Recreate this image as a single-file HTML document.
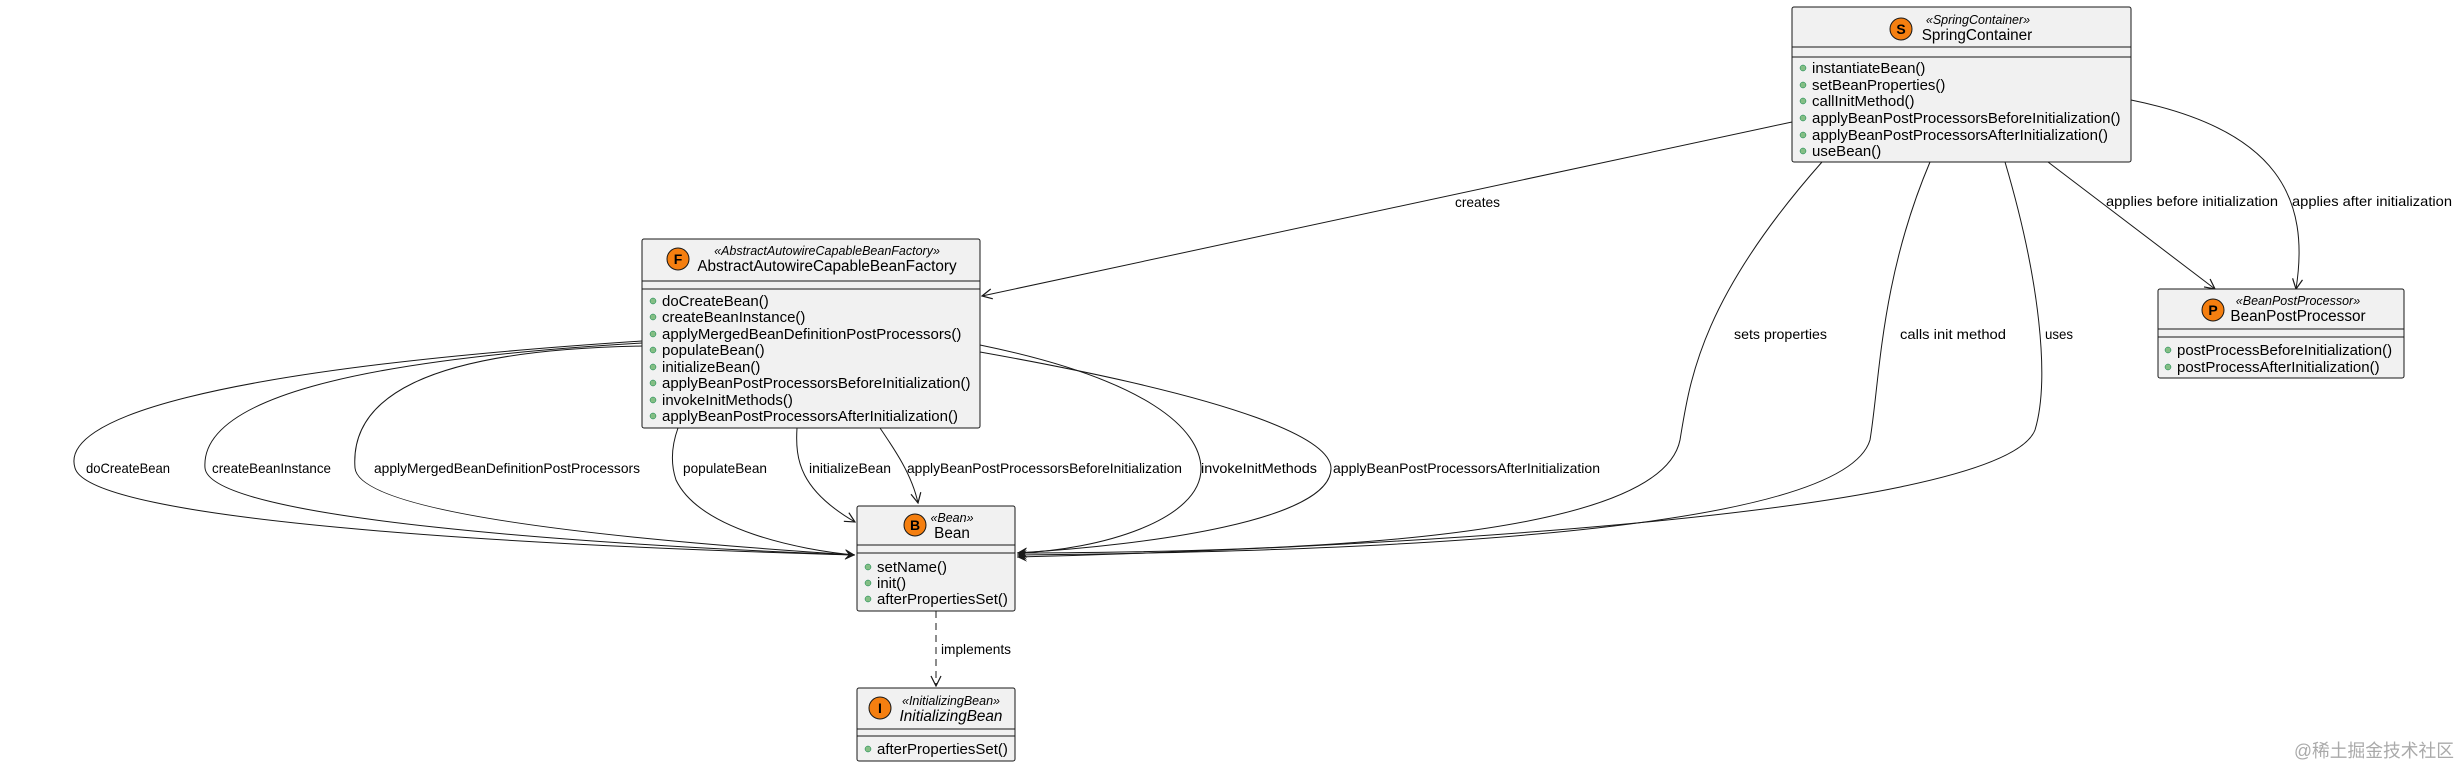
<!DOCTYPE html>
<html><head><meta charset="utf-8"><style>
html,body{margin:0;padding:0;background:#fff;}
svg{display:block;}
text{font-family:"Liberation Sans","Noto Sans CJK SC",sans-serif;fill:#000;}
.m{font-size:15px;}
.l{font-size:14px;}
.st{font-size:12.5px;font-style:italic;}
.nm{font-size:15.3px;}
.box{fill:#f1f1f1;stroke:#181818;stroke-width:1;}
.sep{stroke:#181818;stroke-width:1;}
.e{fill:none;stroke:#181818;stroke-width:1;}
.dot{fill:#84be84;stroke:#038048;stroke-width:0.5;}
.ic{fill:#f57f10;stroke:#181818;stroke-width:1;}
.it{font-size:14px;font-weight:bold;text-anchor:middle;}
</style></head><body>
<svg width="2460" height="767" viewBox="0 0 2460 767" xmlns="http://www.w3.org/2000/svg">
<defs>
<marker id="a" viewBox="0 0 12 12" refX="11" refY="6" markerWidth="12" markerHeight="12" markerUnits="userSpaceOnUse" orient="auto">
<path d="M1,1 L11,6 L1,11 L5,6 Z" fill="#181818"/>
</marker>
<marker id="v" viewBox="0 0 12 12" refX="11" refY="6" markerWidth="12" markerHeight="12" markerUnits="userSpaceOnUse" orient="auto">
<path d="M1,1 L11,6 L1,11" fill="none" stroke="#181818" stroke-width="1.2"/>
</marker>
</defs>

<path class="e" marker-end="url(#a)" d="M642,341 C200,370 60,420 75,468 C90,520 500,545 855,555"/>
<path class="e" marker-end="url(#a)" d="M642,343 C350,360 200,400 205,468 C210,520 600,545 855,555"/>
<path class="e" marker-end="url(#a)" d="M642,346 C420,350 350,400 355,468 C360,520 700,545 855,555"/>
<path class="e" marker-end="url(#a)" d="M678,428 C670,450 672,468 676,480 C700,530 800,550 855,555"/>
<path class="e" marker-end="url(#v)" d="M797,428 C795,460 800,490 855,522"/>
<path class="e" marker-end="url(#v)" d="M880,428 C895,450 912,475 918,503"/>
<path class="e" marker-end="url(#a)" d="M980,345 C1150,380 1200,430 1201,468 C1202,520 1100,550 1017,553"/>
<path class="e" marker-end="url(#a)" d="M980,352 C1250,400 1330,440 1331,468 C1332,520 1150,545 1017,553"/>
<path class="e" marker-end="url(#v)" d="M1792,122 L982,296"/>
<path class="e" marker-end="url(#a)" d="M1822,162 C1700,300 1690,380 1680,440 C1660,540 1300,552 1017,553"/>
<path class="e" marker-end="url(#a)" d="M1930,162 C1880,280 1880,380 1870,440 C1840,540 1300,552 1017,555"/>
<path class="e" marker-end="url(#a)" d="M2005,162 C2040,280 2050,380 2035,430 C2000,520 1300,550 1017,557"/>
<path class="e" marker-end="url(#v)" d="M2048,162 L2215,289"/>
<path class="e" marker-end="url(#v)" d="M2131,100 C2280,130 2310,200 2296,289"/>
<path class="e" marker-end="url(#v)" stroke-dasharray="7,5" d="M936,611 L936,686"/>

<text class="l" x="86" y="473" textLength="84" lengthAdjust="spacingAndGlyphs">doCreateBean</text>
<text class="l" x="212" y="473" textLength="119" lengthAdjust="spacingAndGlyphs">createBeanInstance</text>
<text class="l" x="374" y="473" textLength="266" lengthAdjust="spacingAndGlyphs">applyMergedBeanDefinitionPostProcessors</text>
<text class="l" x="683" y="473" textLength="84" lengthAdjust="spacingAndGlyphs">populateBean</text>
<text class="l" x="809" y="473" textLength="82" lengthAdjust="spacingAndGlyphs">initializeBean</text>
<text class="l" x="907" y="473" textLength="275" lengthAdjust="spacingAndGlyphs">applyBeanPostProcessorsBeforeInitialization</text>
<text class="l" x="1201" y="473" textLength="116" lengthAdjust="spacingAndGlyphs">invokeInitMethods</text>
<text class="l" x="1333" y="473" textLength="267" lengthAdjust="spacingAndGlyphs">applyBeanPostProcessorsAfterInitialization</text>
<text class="l" x="1455" y="207" textLength="45" lengthAdjust="spacingAndGlyphs">creates</text>
<text class="l" x="1734" y="339" textLength="93" lengthAdjust="spacingAndGlyphs">sets properties</text>
<text class="l" x="1900" y="339" textLength="106" lengthAdjust="spacingAndGlyphs">calls init method</text>
<text class="l" x="2045" y="339" textLength="28" lengthAdjust="spacingAndGlyphs">uses</text>
<text class="l" x="2106" y="206" textLength="172" lengthAdjust="spacingAndGlyphs">applies before initialization</text>
<text class="l" x="2292" y="206" textLength="160" lengthAdjust="spacingAndGlyphs">applies after initialization</text>
<text class="l" x="941" y="654" textLength="70" lengthAdjust="spacingAndGlyphs">implements</text>

<rect class="box" x="1792" y="7" width="339" height="155" rx="2"/>
<line class="sep" x1="1792" y1="47" x2="2131" y2="47"/>
<line class="sep" x1="1792" y1="57" x2="2131" y2="57"/>
<circle class="ic" cx="1901" cy="29" r="11"/>
<text class="it" x="1901" y="34">S</text>
<text class="st" x="1978" y="24" text-anchor="middle">«SpringContainer»</text>
<text class="nm" x="1977" y="40" text-anchor="middle">SpringContainer</text>
<g class="m">
<circle class="dot" cx="1803" cy="68" r="3"/><text x="1812" y="73">instantiateBean()</text>
<circle class="dot" cx="1803" cy="85" r="3"/><text x="1812" y="90">setBeanProperties()</text>
<circle class="dot" cx="1803" cy="101" r="3"/><text x="1812" y="106">callInitMethod()</text>
<circle class="dot" cx="1803" cy="118" r="3"/><text x="1812" y="123">applyBeanPostProcessorsBeforeInitialization()</text>
<circle class="dot" cx="1803" cy="135" r="3"/><text x="1812" y="140">applyBeanPostProcessorsAfterInitialization()</text>
<circle class="dot" cx="1803" cy="151" r="3"/><text x="1812" y="156">useBean()</text>
</g>

<rect class="box" x="642" y="239" width="338" height="189" rx="2"/>
<line class="sep" x1="642" y1="281" x2="980" y2="281"/>
<line class="sep" x1="642" y1="289" x2="980" y2="289"/>
<circle class="ic" cx="678" cy="259" r="11"/>
<text class="it" x="678" y="264">F</text>
<text class="st" x="827" y="255" text-anchor="middle">«AbstractAutowireCapableBeanFactory»</text>
<text class="nm" x="827" y="271" text-anchor="middle">AbstractAutowireCapableBeanFactory</text>
<g class="m">
<circle class="dot" cx="653" cy="301" r="3"/><text x="662" y="306">doCreateBean()</text>
<circle class="dot" cx="653" cy="317" r="3"/><text x="662" y="322">createBeanInstance()</text>
<circle class="dot" cx="653" cy="334" r="3"/><text x="662" y="339">applyMergedBeanDefinitionPostProcessors()</text>
<circle class="dot" cx="653" cy="350" r="3"/><text x="662" y="355">populateBean()</text>
<circle class="dot" cx="653" cy="367" r="3"/><text x="662" y="372">initializeBean()</text>
<circle class="dot" cx="653" cy="383" r="3"/><text x="662" y="388">applyBeanPostProcessorsBeforeInitialization()</text>
<circle class="dot" cx="653" cy="400" r="3"/><text x="662" y="405">invokeInitMethods()</text>
<circle class="dot" cx="653" cy="416" r="3"/><text x="662" y="421">applyBeanPostProcessorsAfterInitialization()</text>
</g>

<rect class="box" x="857" y="506" width="158" height="105" rx="2"/>
<line class="sep" x1="857" y1="545" x2="1015" y2="545"/>
<line class="sep" x1="857" y1="553" x2="1015" y2="553"/>
<circle class="ic" cx="915" cy="525" r="11"/>
<text class="it" x="915" y="530">B</text>
<text class="st" x="952" y="522" text-anchor="middle">«Bean»</text>
<text class="nm" x="952" y="538" text-anchor="middle">Bean</text>
<g class="m">
<circle class="dot" cx="868" cy="567" r="3"/><text x="877" y="572">setName()</text>
<circle class="dot" cx="868" cy="583" r="3"/><text x="877" y="588">init()</text>
<circle class="dot" cx="868" cy="599" r="3"/><text x="877" y="604">afterPropertiesSet()</text>
</g>

<rect class="box" x="857" y="688" width="158" height="73" rx="2"/>
<line class="sep" x1="857" y1="729" x2="1015" y2="729"/>
<line class="sep" x1="857" y1="736" x2="1015" y2="736"/>
<circle class="ic" cx="880" cy="708" r="11"/>
<text class="it" x="880" y="713">I</text>
<text class="st" x="951" y="705" text-anchor="middle">«InitializingBean»</text>
<text class="nm" x="951" y="721" text-anchor="middle" font-style="italic">InitializingBean</text>
<g class="m">
<circle class="dot" cx="868" cy="749" r="3"/><text x="877" y="754">afterPropertiesSet()</text>
</g>

<rect class="box" x="2158" y="289" width="246" height="89" rx="2"/>
<line class="sep" x1="2158" y1="329" x2="2404" y2="329"/>
<line class="sep" x1="2158" y1="337" x2="2404" y2="337"/>
<circle class="ic" cx="2213" cy="310" r="11"/>
<text class="it" x="2213" y="315">P</text>
<text class="st" x="2298" y="305" text-anchor="middle">«BeanPostProcessor»</text>
<text class="nm" x="2298" y="321" text-anchor="middle">BeanPostProcessor</text>
<g class="m">
<circle class="dot" cx="2168" cy="350" r="3"/><text x="2177" y="355">postProcessBeforeInitialization()</text>
<circle class="dot" cx="2168" cy="367" r="3"/><text x="2177" y="372">postProcessAfterInitialization()</text>
</g>

<text x="2294" y="757" font-size="18" textLength="160" lengthAdjust="spacingAndGlyphs" style="fill:#aaaaaa">@稀土掘金技术社区</text>
</svg>
</body></html>
